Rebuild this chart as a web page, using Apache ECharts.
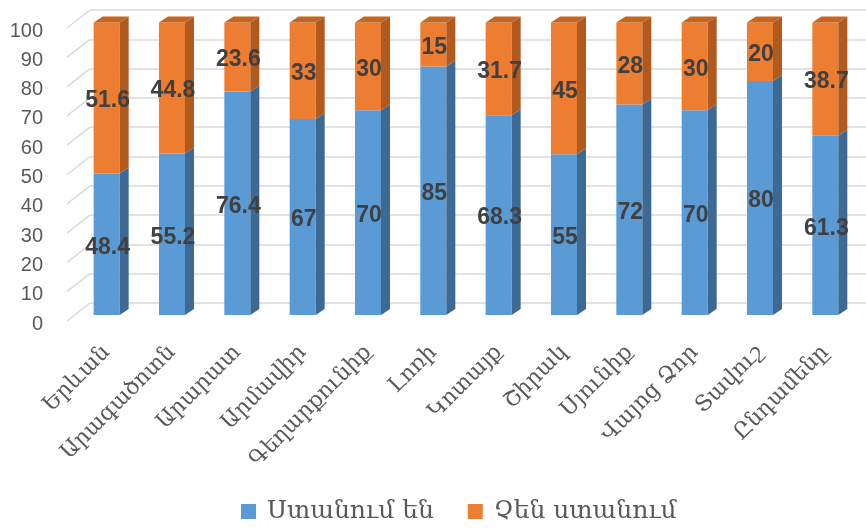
<!DOCTYPE html>
<html>
<head>
<meta charset="utf-8">
<script src="https://cdn.jsdelivr.net/npm/echarts@6/dist/echarts.min.js"></script>
<style>html,body{margin:0;padding:0;background:#fff;}#c{width:866px;height:531px;}</style>
</head>
<body>
<div id="c"></div>
<script>
const categories = ['Երևան','Արագածոտն','Արարատ','Արմավիր','Գեղարքունիք','Լոռի','Կոտայք','Շիրակ','Սյունիք','Վայոց Ձոր','Տավուշ','Ընդամենը'];
const receiving = [48.4,55.2,76.4,67,70,85,68.3,55,72,70,80,61.3];
const notReceiving = [51.6,44.8,23.6,33,30,15,31.7,45,28,30,20,38.7];
const yTicks = [0,10,20,30,40,50,60,70,80,90,100];
const seriesNames = ['Ստանում են','Չեն ստանում'];

const DX = 9, DY = -6, BAR_W = 26;
const colors = {
  blue: {front:'#5B9BD5', side:'#3C6A94', top:'#4A80B2'},
  orange: {front:'#ED7D31', side:'#B25A1E', top:'#C6651F'}
};

function make3D(pal, showTop) {
  return function (params, api) {
    const i = api.value(0), base = api.value(1), top = api.value(2), v = api.value(3);
    const p0 = api.coord([i, base]);
    const p1 = api.coord([i, top]);
    const xL = p0[0] - BAR_W / 2, xR = p0[0] + BAR_W / 2;
    const yB = p0[1], yT = p1[1];
    const children = [
      {type:'rect', shape:{x:xL, y:yT, width:BAR_W, height:yB - yT}, style:{fill:pal.front}},
      {type:'polygon', shape:{points:[[xR,yT],[xR+DX,yT+DY],[xR+DX,yB+DY],[xR,yB]]}, style:{fill:pal.side}}
    ];
    if (showTop) {
      children.push({type:'polygon', shape:{points:[[xL,yT],[xL+DX,yT+DY],[xR+DX,yT+DY],[xR,yT]]}, style:{fill:pal.top}});
    }
    children.push({type:'text', x:p0[0] + 1, y:(yB + yT) / 2 + 3,
      style:{text:String(v), fill:'#404040', font:'bold 23px "Liberation Sans", Arial, sans-serif', align:'center', verticalAlign:'middle'}});
    return {type:'group', children:children};
  };
}

const blueData = receiving.map((v, i) => [i, 0, v, v]);
const orangeData = notReceiving.map((v, i) => [i, receiving[i], receiving[i] + v, v]);

const chart = echarts.init(document.getElementById('c'), null, {renderer:'canvas'});
chart.setOption({
  animation:false,
  backgroundColor:'#ffffff',
  legend:{
    data:seriesNames, bottom:2, left:236, itemWidth:15, itemHeight:15, itemGap:34,
    icon:'rect',
    textStyle:{color:'#595959', fontSize:25, fontFamily:'"DejaVu Serif", serif', padding:[0,0,0,6]}
  },
  grid:[
    {left:90, right:0, top:10, bottom:228},
    {left:74, right:8, top:22.5, bottom:216},
    {left:52, right:0, top:31, bottom:207}
  ],
  xAxis:[
    {type:'category', gridIndex:0, data:categories, show:false},
    {type:'category', gridIndex:1, data:categories,
      axisLine:{show:false}, axisTick:{show:false},
      axisLabel:{interval:0, rotate:45, margin:34, color:'#595959', fontSize:22, fontFamily:'"DejaVu Serif", serif'}},
    {type:'category', gridIndex:2, data:categories, show:false}
  ],
  yAxis:[
    {type:'value', gridIndex:0, min:0, max:100, interval:10,
      axisLine:{show:false}, axisTick:{show:false}, axisLabel:{show:false},
      splitLine:{lineStyle:{color:'#D9D9D9', width:1.5}}},
    {type:'value', gridIndex:1, min:0, max:100, interval:10, show:false, splitLine:{show:false}},
    {type:'value', gridIndex:2, min:0, max:100, interval:10,
      axisLine:{show:false}, axisTick:{show:false}, splitLine:{show:false},
      axisLabel:{color:'#595959', fontSize:20, margin:9, fontFamily:'"Liberation Sans", Arial, sans-serif'}}
  ],
  series:[
    {type:'custom', name:'walls', xAxisIndex:0, yAxisIndex:0, silent:true, clip:false,
      data:yTicks.map(t => [0, t]),
      renderItem:function (params, api) {
        const p = api.coord([0, api.value(1)]);
        const x0 = params.coordSys.x;
        return {type:'line', shape:{x1:x0, y1:p[1], x2:x0 - 23, y2:p[1] + 18},
          style:{stroke:'#D9D9D9', lineWidth:1.5}};
      }},
    {type:'custom', name:seriesNames[0], xAxisIndex:1, yAxisIndex:1, clip:false,
      itemStyle:{color:colors.blue.front},
      encode:{x:0, y:[1,2]},
      data:blueData, renderItem:make3D(colors.blue, false)},
    {type:'custom', name:seriesNames[1], xAxisIndex:1, yAxisIndex:1, clip:false,
      itemStyle:{color:colors.orange.front},
      encode:{x:0, y:[1,2]},
      data:orangeData, renderItem:make3D(colors.orange, true)}
  ]
});
</script>
</body>
</html>
